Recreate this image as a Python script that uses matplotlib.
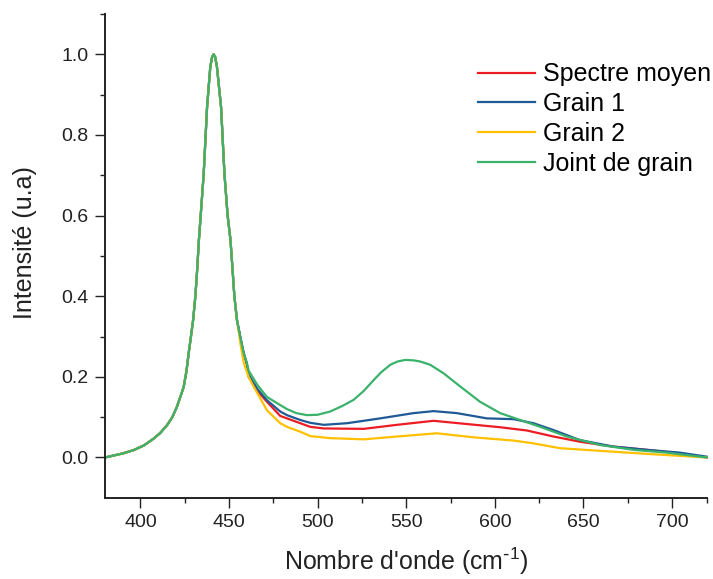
import matplotlib
matplotlib.use("Agg")
import matplotlib.pyplot as plt

plt.rcParams['font.family'] = ['Liberation Sans', 'DejaVu Sans']
plt.rcParams['mathtext.default'] = 'regular'
plt.rcParams['axes.unicode_minus'] = False

# shared part of the spectra (left flank, main peak, right flank)
common_x = [380, 390, 396, 402, 407.5, 411, 415, 418, 420.6, 422.5, 424.4, 426, 427.2,
            428.5, 429.7, 431, 432, 433, 434, 435.7, 437.6, 439.4, 440.4, 441.3, 442.2, 443.2,
            445.5, 447.4, 449.2, 450.8, 452, 453, 454.5]
common_y = [0.0, 0.010, 0.018, 0.030, 0.047, 0.060, 0.080, 0.100, 0.126, 0.150, 0.175, 0.215,
            0.258, 0.300, 0.340, 0.400, 0.465, 0.540, 0.600, 0.704, 0.869, 0.968, 0.993, 1.0,
            0.993, 0.968, 0.869, 0.704, 0.600, 0.540, 0.465, 0.400, 0.340]

red_x = [456.5, 458.3, 460, 461.1, 466, 471.4, 478.9, 482.7, 490.2, 495.8, 503.4, 526, 544.8,
         565.4, 584.2, 603, 618, 633.1, 648.1, 666.9, 685.7, 704.5, 719.6]
red_y = [0.295, 0.258, 0.233, 0.200, 0.165, 0.138, 0.103, 0.097, 0.085, 0.076, 0.072, 0.071,
         0.081, 0.091, 0.083, 0.075, 0.067, 0.052, 0.039, 0.027, 0.019, 0.010, 0.0]

blue_x = [456.5, 458.3, 460, 461.1, 466, 471.4, 478.9, 482.7, 490.2, 495.8, 503.4, 516.6, 535.3,
          554.1, 565.4, 578.6, 595.5, 610.5, 621.8, 633.1, 648.1, 666.9, 685.7, 704.5, 719.6]
blue_y = [0.295, 0.258, 0.233, 0.205, 0.170, 0.142, 0.114, 0.105, 0.093, 0.086, 0.081, 0.085,
          0.097, 0.110, 0.115, 0.110, 0.097, 0.095, 0.085, 0.068, 0.043, 0.027, 0.019, 0.012, 0.002]

yellow_x = [456.5, 458.3, 461, 464, 471.4, 478.9, 482.7, 490.2, 495.8, 507.1, 526, 544.8, 567.3,
            588, 610.5, 621.8, 636.8, 657.5, 685.7, 719.6]
yellow_y = [0.280, 0.235, 0.200, 0.175, 0.117, 0.085, 0.076, 0.064, 0.053, 0.048, 0.045, 0.052,
            0.060, 0.050, 0.042, 0.035, 0.023, 0.017, 0.009, 0.0]

green_x = [456.5, 458.3, 460, 461.1, 466, 471.4, 478.9, 482.7, 488, 494, 500, 507.1, 514, 520.3,
           526, 531.6, 536, 541, 545, 549.4, 554, 557.9, 563.5, 571, 580.5, 591.7, 603, 614.3,
           625.6, 640.6, 659.4, 678.2, 697, 719.6]
green_y = [0.295, 0.258, 0.235, 0.215, 0.180, 0.150, 0.130, 0.120, 0.110, 0.105, 0.106, 0.114,
           0.128, 0.143, 0.165, 0.192, 0.212, 0.230, 0.238, 0.242, 0.241, 0.238, 0.230, 0.209,
           0.176, 0.138, 0.110, 0.093, 0.076, 0.052, 0.031, 0.019, 0.012, 0.0]

labels = ["Spectre moyen", "Grain 1", "Grain 2", "Joint de grain"]
colors = ["#ED1C24", "#1F5A96", "#FFC000", "#3BB26B"]
series = [(red_x, red_y), (blue_x, blue_y), (yellow_x, yellow_y), (green_x, green_y)]

fig = plt.figure(figsize=(7.13, 5.79), dpi=100)
ax = fig.add_axes([105 / 713, (579 - 497.8) / 579, (707.5 - 105) / 713, (497.8 - 14) / 579])

for (sx, sy), c, lab in zip(series, colors, labels):
    ax.plot(common_x + sx, common_y + sy, color=c, lw=1.6, label=lab)

ax.set_xlim(380, 720)
ax.set_ylim(-0.1, 1.1)
ax.set_xticks([400, 450, 500, 550, 600, 650, 700])
ax.set_xticks([425, 475, 525, 575, 625, 675, 719.999], minor=True)
ax.set_yticks([0.0, 0.2, 0.4, 0.6, 0.8, 1.0])
ax.set_yticks([0.1, 0.3, 0.5, 0.7, 0.9, 1.1], minor=True)
ax.set_yticklabels(["0.0", "0.2", "0.4", "0.6", "0.8", "1.0"])

for s in ["top", "right"]:
    ax.spines[s].set_visible(False)
for s in ["left", "bottom"]:
    ax.spines[s].set_linewidth(1.4)
    ax.spines[s].set_color("#222222")

ax.tick_params(which="major", direction="out", length=7, width=1.0, labelsize=14,
               colors="#222222", pad=5)
ax.tick_params(which="minor", direction="out", length=3.8, width=1.0, colors="#222222")

ax.set_xlabel(r"Nombre d'onde (cm$^{\text{-}1}$)", fontsize=18, color="#222222", labelpad=10)
ax.set_ylabel("Intensité (u.a)", fontsize=18, color="#222222")
ax.yaxis.set_label_coords(-0.113, 0.527)

ax.legend(loc="upper left", bbox_to_anchor=(0.619, 0.90), frameon=False, fontsize=18,
          handlelength=2.3, handletextpad=0.3, labelspacing=0.23, borderpad=0, borderaxespad=0)

fig.savefig("out.png", dpi=100)
